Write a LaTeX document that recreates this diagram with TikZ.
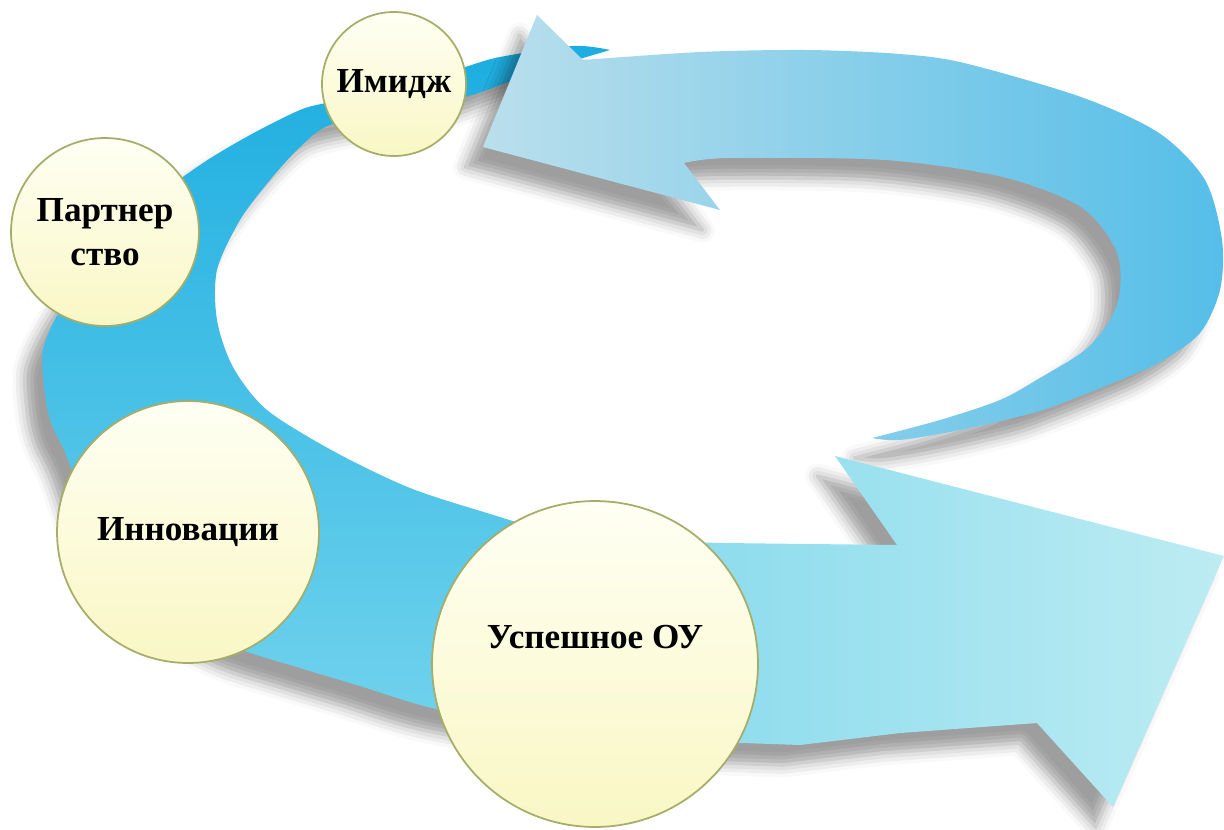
\documentclass[tikz,border=0pt]{standalone}
\usepackage{fontspec}
\setmainfont{Liberation Serif}
\usetikzlibrary{shadows.blur}

\definecolor{bandTop}{HTML}{1CADE0}
\definecolor{bandMid}{HTML}{33BAE6}
\definecolor{bandBot}{HTML}{72D3ED}
\definecolor{arrowLeft}{HTML}{84D9ED}
\definecolor{arrowRight}{HTML}{BDECF2}
\definecolor{upperLeft}{HTML}{BADFEC}
\definecolor{upperRight}{HTML}{55BEE8}
\definecolor{bubbleTop}{HTML}{FFFFF4}
\definecolor{bubbleBot}{HTML}{F9F7C4}
\definecolor{bubbleEdge}{HTML}{A6AD68}

\begin{document}
\begin{tikzpicture}[x=0.02cm, y=-0.02cm,
    bubble/.style={circle, draw=bubbleEdge, line width=1pt, top color=bubbleTop, bottom color=bubbleBot, inner sep=0pt},
    caption/.style={font=\bfseries\fontsize{20}{25}\selectfont, align=center},
    softshadow/.style={blur shadow={shadow xshift=-0.35cm, shadow yshift=-0.4cm, shadow blur radius=0.25cm, shadow opacity=38}}]

    % Canvas
    \useasboundingbox (0,0) rectangle (1224,829);

    % Left band: thin tail at the top, round the left side
    \path[softshadow, top color=bandTop, middle color=bandMid, bottom color=bandBot]
      plot[smooth] coordinates {(610,50) (573,46) (500,57) (465,67) (400,86) (330,102) (300,110) (250,135) (200,165) (140,210) (90,265) (60,310) (43,350) (45,395) (52,425) (67,457) (95,530) (150,600) (230,645) (300,668) (360,686) (410,702) (450,712) (540,728) (620,738)}
      -- plot[smooth] coordinates {(620,540) (540,528) (487,513) (410,488) (335,452) (267,410) (233,367) (217,320) (217,270) (240,220) (270,180) (300,147) (330,125) (400,110) (465,97) (520,78) (583,58)}
      -- cycle;

    % Right band with the upper arrowhead
    \path[softshadow, left color=upperLeft, right color=upperRight]
      (537,15) -- (583,60)
      -- plot[smooth] coordinates {(583,60) (700,52) (807,50) (900,54) (964,63) (1081,97) (1159,133) (1205,180) (1222,240) (1220,290) (1200,333) (1160,362) (1120,380) (1070,400) (1033,413) (960,430) (900,440) (872,438)}
      -- plot[smooth] coordinates {(872,438) (940,420) (1000,400) (1040,378) (1085,350) (1110,320) (1120,290) (1116,250) (1081,207) (1003,177) (885,160) (729,158) (684,163)}
      -- (720,210) -- (483,147) -- cycle;

    % Lower arrow
    \path[softshadow, left color=arrowLeft, right color=arrowRight]
      (600,540) -- (723,543) -- (897,545) -- (835,456) -- (1224,556) -- (1113,807)
      -- (1037,723) -- (900,733) -- (800,745) -- (600,738) -- cycle;

    % Circles
    \node[bubble, caption, minimum size=2.88cm] (imidzh) at (394,84) {Имидж};
    \node[bubble, caption, minimum size=3.76cm] (partner) at (105,232) {Партнер\\ство};
    \node[bubble, caption, minimum size=5.24cm] (innov) at (188,532) {Инновации};
    \node[bubble, minimum size=6.52cm] (uspeh) at (595,664) {};
    \node[caption] (uspehtext) at ([yshift=0.54cm]uspeh.center) {Успешное ОУ};
\end{tikzpicture}
\end{document}
